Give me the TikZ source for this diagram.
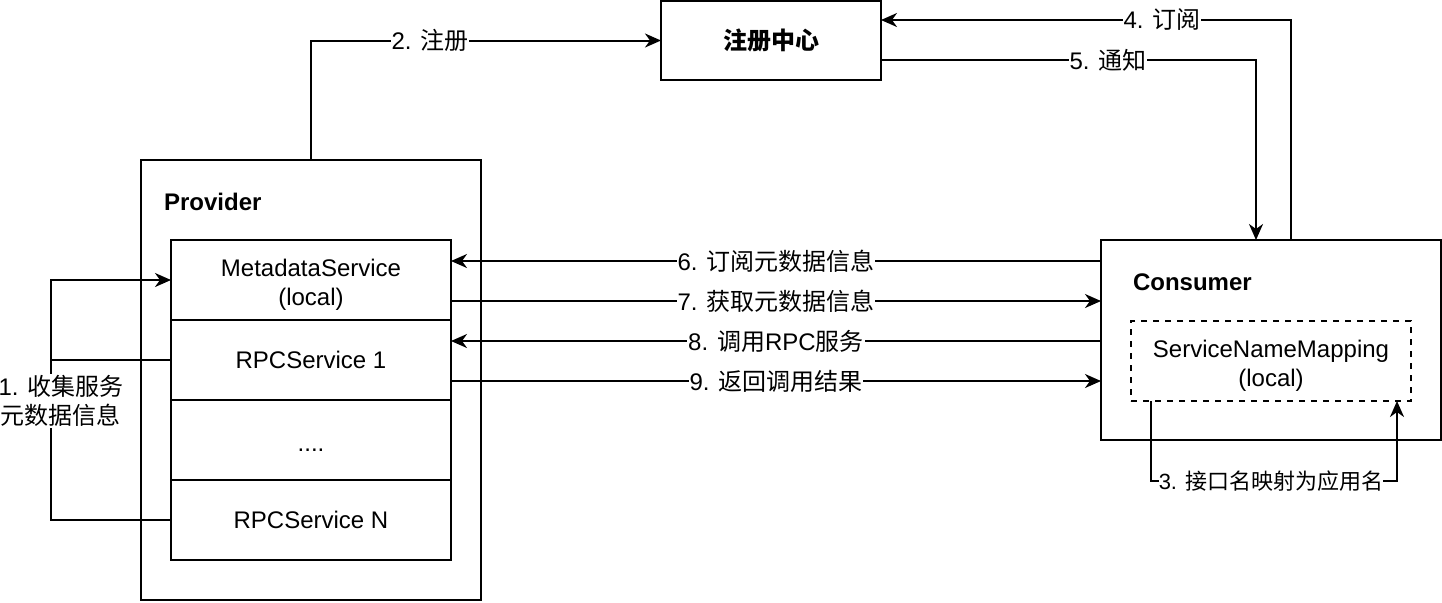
\documentclass[tikz,border=0pt]{standalone}
\usepackage{fontspec}
\setmainfont{Liberation Sans}
\newfontfamily\cjk{Noto Sans CJK SC}
\usetikzlibrary{arrows.meta}
\begin{document}
\begin{tikzpicture}[x=0.5pt,y=-0.5pt,
  every node/.style={font=\fontsize{12}{14.5}\selectfont},
  box/.style={draw,line width=1pt,inner sep=0pt,outer sep=0pt,align=center},
  boxtext/.style={label={[yshift=-2.5pt,align=center,inner sep=0pt]center:#1}},
  lbl/.style={fill=white,inner sep=0.5pt,align=center},
  arr/.style={line width=1pt,-{Stealth[length=8pt,width=7pt,inset=2.5pt]}},
  ln/.style={line width=1pt}]
\useasboundingbox (0,0) rectangle (1442,602);
% nodes
\node[box,minimum width=110pt,minimum height=39.5pt] (reg) at (771,40.5) {\cjk\bfseries 注册中心};
\node[box,minimum width=170pt,minimum height=220pt] (prov) at (311,380) {};
\node[anchor=west,font=\fontsize{12}{14.5}\selectfont\bfseries] (provl) at (157,202) {Provider};
\node[box,minimum width=140pt,minimum height=40pt,boxtext={MetadataService\\(local)}] (meta) at (311,280) {};
\node[box,minimum width=140pt,minimum height=40pt] (rs1) at (311,360) {RPCService 1};
\node[box,minimum width=140pt,minimum height=40pt,label={[yshift=-5pt,inner sep=0pt]center:....}] (dots) at (311,440) {};
\node[box,minimum width=140pt,minimum height=40pt] (rsn) at (311,520) {RPCService N};
\node[box,minimum width=170pt,minimum height=100pt] (cons) at (1271,340) {};
\node[anchor=west,font=\fontsize{12}{14.5}\selectfont\bfseries] (consl) at (1126,282) {Consumer};
\node[box,dashed,minimum width=140pt,minimum height=40pt,boxtext={ServiceNameMapping\\(local)}] (map) at (1271,361) {};
% 1
\draw[ln] (rs1.west) -- (51,0 |- rs1.west);
\draw[arr] (rsn.west) -- (51,0 |- rsn.west) -- (51,0 |- meta.west) -- (meta.west);
\node[lbl] (l1) at (61,401) {1. {\cjk 收集服务}\\{\cjk 元数据信息}};
% 2
\draw[arr] (prov.north) |- (reg.west);
\node[lbl] (l2) at (430,40) {2. {\cjk 注册}};
% 4
\draw[arr] (1291,0 |- cons.north) |- (reg.east |- 0,20);
\node[lbl] (l4) at (1162,20) {4. {\cjk 订阅}};
% 5
\draw[arr] (reg.east |- 0,60) -| (1256,0 |- cons.north);
\node[lbl] (l5) at (1108,60) {5. {\cjk 通知}};
% 6-9
\draw[arr] (cons.west |- 0,261) -- node[lbl]{6. {\cjk 订阅元数据信息}} (meta.east |- 0,261);
\draw[arr] (meta.east |- 0,301) -- node[lbl]{7. {\cjk 获取元数据信息}} (cons.west |- 0,301);
\draw[arr] (cons.west |- 0,341) -- node[lbl]{8. {\cjk 调用}RPC{\cjk 服务}} (rs1.east |- 0,341);
\draw[arr] (rs1.east |- 0,381) -- node[lbl]{9. {\cjk 返回调用结果}} (cons.west |- 0,381);
% 3
\draw[arr] (1151,0 |- map.south) -- (1151,481) -- (1397,481) -- (1397,0 |- map.south);
\node[lbl,inner sep=0pt,font=\fontsize{11}{13}\selectfont] (l3) at (1271,481) {3. {\cjk 接口名映射为应用名}};
\end{tikzpicture}
\end{document}
